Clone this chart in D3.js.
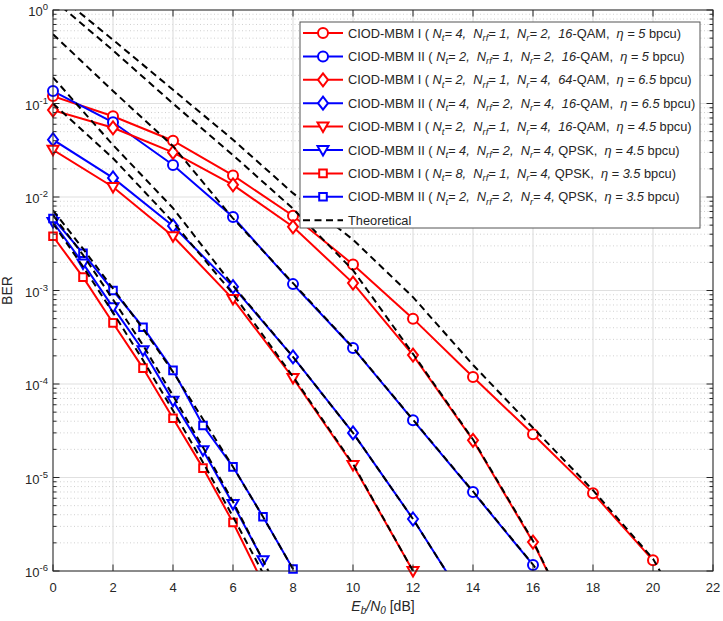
<!DOCTYPE html>
<html>
<head>
<meta charset="utf-8">
<script src="https://cdn.jsdelivr.net/npm/d3@7"></script>
<style>
  body { margin: 0; background: #fff; }
  text { font-family: "Liberation Sans", Arial, sans-serif; fill: #262626; }
</style>
</head>
<body>
<div id="chart"></div>
<script>

// ---- data ----
var schemes = ["I", "II", "I", "II", "I", "II", "I", "II"];
var nT  = ["4", "2", "2", "4", "2", "4", "8", "2"];
var nRF = ["1", "1", "1", "2", "1", "2", "1", "2"];
var nR  = ["2", "2", "4", "4", "4", "4", "4", "4"];
var qamOrder = ["16", "16", "64", "16", "16", "", "", ""];   // "" -> QPSK
var eta = ["5", "5", "6.5", "6.5", "4.5", "4.5", "3.5", "3.5"];

// simulated BER
var simX = [
    [0, 2, 4, 6, 8, 10, 12, 14, 16, 18, 20],
    [0, 2, 4, 6, 8, 10, 12, 14, 16],
    [0, 2, 4, 6, 8, 10, 12, 14, 16, 18],
    [0, 2, 4, 6, 8, 10, 12, 14],
    [0, 2, 4, 6, 8, 10, 12],
    [0, 1, 2, 3, 4, 5, 6, 7],
    [0, 1, 2, 3, 4, 5, 6, 7],
    [0, 1, 2, 3, 4, 5, 6, 7, 8]
];
var simBer = [
    [0.12, 0.073, 0.040, 0.017, 0.0063, 1.9e-3, 5.0e-4, 1.19e-4, 2.9e-5, 6.8e-6, 1.3e-6],
    [0.136, 0.063, 0.022, 0.0061, 1.17e-3, 2.43e-4, 4.1e-5, 7.0e-6, 1.16e-6],
    [0.085, 0.055, 0.030, 0.0135, 0.0048, 1.2e-3, 2.04e-4, 2.5e-5, 2.04e-6, 1e-7],
    [0.041, 0.016, 0.0049, 1.1e-3, 1.95e-4, 3.0e-5, 3.6e-6, 3.5e-7],
    [0.032, 0.0128, 0.0038, 8.1e-4, 1.16e-4, 1.36e-5, 1.0e-6],
    [0.0054, 1.95e-3, 6.6e-4, 2.3e-4, 6.6e-5, 1.96e-5, 5.2e-6, 1.3e-6],
    [0.0038, 1.39e-3, 4.5e-4, 1.48e-4, 4.3e-5, 1.26e-5, 3.3e-6, 7.4e-7],
    [0.0059, 2.5e-3, 1.0e-3, 4.05e-4, 1.4e-4, 3.6e-5, 1.3e-5, 3.8e-6, 1.05e-6]
];

// theoretical curves (dashed)
var theoX = [
    [0, 2, 4, 6, 8, 10, 12, 14, 16, 18, 20, 22],
    [0, 2, 4, 6, 8, 10, 12, 14, 16, 18],
    [0, 2, 4, 6, 8, 10, 12, 14, 16, 18],
    [0, 2, 4, 6, 8, 10, 12, 14],
    [0, 2, 4, 6, 8, 10, 12, 14],
    [0, 1, 2, 3, 4, 5, 6, 7, 8],
    [0, 1, 2, 3, 4, 5, 6, 7, 8],
    [0, 1, 2, 3, 4, 5, 6, 7, 8, 9]
];
var theoBer = [
    [1.6, 0.48, 0.14, 0.041, 0.011, 3.5e-3, 8.5e-4, 1.6e-4, 3.4e-5, 7.3e-6, 1.35e-6, 1e-7],
    [0.55, 0.136, 0.035, 5.9e-3, 1.2e-3, 2.45e-4, 4.15e-5, 7.1e-6, 1.17e-6, 1.5e-7],
    [1.3, 0.37, 0.1, 0.028, 0.0075, 1.65e-3, 2.1e-4, 2.55e-5, 2.1e-6, 1e-7],
    [0.19, 0.036, 0.0076, 1.13e-3, 1.95e-4, 3.0e-5, 3.6e-6, 3.5e-7],
    [0.1, 0.026, 0.0054, 9.2e-4, 1.2e-4, 1.4e-5, 1.0e-6, 6e-8],
    [6.4e-3, 2.4e-3, 8e-4, 2.6e-4, 7.5e-5, 2.1e-5, 5.5e-6, 1.3e-6, 3e-7],
    [5.2e-3, 1.8e-3, 5.8e-4, 1.8e-4, 5.2e-5, 1.45e-5, 3.8e-6, 9.5e-7, 2.2e-7],
    [7.2e-3, 2.8e-3, 1.05e-3, 3.9e-4, 1.35e-4, 4.2e-5, 1.3e-5, 3.8e-6, 1.05e-6, 2.8e-7]
];

var xTicks = [0, 2, 4, 6, 8, 10, 12, 14, 16, 18, 20, 22];
var yTickExp = [0, -1, -2, -3, -4, -5, -6];

// styles per series
var seriesColor = ["#ff0000", "#0000ff", "#ff0000", "#0000ff", "#ff0000", "#0000ff", "#ff0000", "#0000ff"];
var seriesMarker = ["circle", "circle", "diamond", "diamond", "triangle", "triangle", "square", "square"];


/*
 * BerChart - Object constructor function
 * @param _parentElement -- the HTML element in which to draw the chart
 */
BerChart = function(_parentElement) {
    this.parentElement = _parentElement;
    this.initVis();
};


BerChart.prototype.initVis = function() {
    var vis = this;

    vis.width = 723;
    vis.height = 621;
    vis.margin = {left: 53, right: 10, top: 10, bottom: 50};
    vis.plotW = vis.width - vis.margin.left - vis.margin.right;
    vis.plotH = vis.height - vis.margin.top - vis.margin.bottom;

    vis.svg = d3.select(vis.parentElement)
        .append("svg")
        .attr("width", vis.width)
        .attr("height", vis.height);

    vis.svg.append("rect")
        .attr("width", vis.width)
        .attr("height", vis.height)
        .attr("fill", "#fff");

    vis.g = vis.svg.append("g")
        .attr("transform", "translate(" + vis.margin.left + "," + vis.margin.top + ")");

    vis.x = d3.scaleLinear().domain([0, 22]).range([0, vis.plotW]);
    vis.y = d3.scaleLog().domain([1e-6, 1]).range([vis.plotH, 0]);

    vis.svg.append("defs").append("clipPath")
        .attr("id", "plot-clip")
        .append("rect")
        .attr("width", vis.plotW)
        .attr("height", vis.plotH);

    vis.drawGrid();
    vis.drawSeries();
    vis.drawAxes();
    vis.drawLegend();
};


BerChart.prototype.drawGrid = function() {
    var vis = this;
    var grid = vis.g.append("g").attr("class", "grid");

    // minor horizontal grid (dotted)
    var minor = [];
    yTickExp.forEach(function(e) {
        if (e === 0) return;
        for (var k = 2; k <= 9; k++) minor.push(k * Math.pow(10, e));
    });
    grid.selectAll(".minor").data(minor).enter().append("line")
        .attr("x1", 0).attr("x2", vis.plotW)
        .attr("y1", function(d) { return vis.y(d); })
        .attr("y2", function(d) { return vis.y(d); })
        .attr("stroke", "#c4c4c4")
        .attr("stroke-width", 0.8)
        .attr("stroke-dasharray", "1,2.5");

    // major grid
    grid.selectAll(".hmajor").data(yTickExp).enter().append("line")
        .attr("x1", 0).attr("x2", vis.plotW)
        .attr("y1", function(d) { return vis.y(Math.pow(10, d)); })
        .attr("y2", function(d) { return vis.y(Math.pow(10, d)); })
        .attr("stroke", "#e0e0e0")
        .attr("stroke-width", 1.2);
    grid.selectAll(".vmajor").data(xTicks).enter().append("line")
        .attr("y1", 0).attr("y2", vis.plotH)
        .attr("x1", function(d) { return vis.x(d); })
        .attr("x2", function(d) { return vis.x(d); })
        .attr("stroke", "#e0e0e0")
        .attr("stroke-width", 1.2);
};


BerChart.prototype.markerPath = function(type) {
    switch (type) {
        case "circle":   return "M5,0A5,5 0 1,1 -5,0A5,5 0 1,1 5,0Z";
        case "diamond":  return "M0,-6.5L5,0L0,6.5L-5,0Z";
        case "triangle": return "M-5.5,-4L5.5,-4L0,5.5Z";
        case "square":   return "M-3.8,-3.8H3.8V3.8H-3.8Z";
    }
};


BerChart.prototype.drawSeries = function() {
    var vis = this;

    vis.line = d3.line()
        .x(function(d) { return vis.x(d[0]); })
        .y(function(d) { return vis.y(d[1]); });

    var clipped = vis.g.append("g").attr("clip-path", "url(#plot-clip)");

    // simulated curves
    simX.forEach(function(xs, i) {
        var pts = xs.map(function(x, j) { return [x, simBer[i][j]]; });
        clipped.append("path")
            .datum(pts)
            .attr("fill", "none")
            .attr("stroke", seriesColor[i])
            .attr("stroke-width", 2)
            .attr("d", vis.line);
    });

    var markers = vis.g.append("g");
    simX.forEach(function(xs, i) {
        var pts = xs.map(function(x, j) { return [x, simBer[i][j]]; })
            .filter(function(d) { return d[1] >= 0.99e-6; });
        markers.selectAll(".m" + i).data(pts).enter().append("path")
            .attr("transform", function(d) { return "translate(" + vis.x(d[0]) + "," + vis.y(d[1]) + ")"; })
            .attr("d", vis.markerPath(seriesMarker[i]))
            .attr("fill", "#fff")
            .attr("stroke", seriesColor[i])
            .attr("stroke-width", 2);
    });

    // theoretical curves
    var theo = vis.g.append("g").attr("clip-path", "url(#plot-clip)");
    theoX.forEach(function(xs, i) {
        var pts = xs.map(function(x, j) { return [x, theoBer[i][j]]; });
        theo.append("path")
            .datum(pts)
            .attr("fill", "none")
            .attr("stroke", "#000")
            .attr("stroke-width", 2)
            .attr("stroke-dasharray", "7,4.5")
            .attr("d", vis.line);
    });
};


BerChart.prototype.drawAxes = function() {
    var vis = this;
    var axisColor = "#262626";
    var ax = vis.g.append("g");

    // box
    ax.append("rect")
        .attr("width", vis.plotW)
        .attr("height", vis.plotH)
        .attr("fill", "none")
        .attr("stroke", axisColor)
        .attr("stroke-width", 1);

    // x ticks (bottom + top, inward)
    xTicks.forEach(function(t) {
        var px = vis.x(t);
        ax.append("line").attr("x1", px).attr("x2", px)
            .attr("y1", vis.plotH).attr("y2", vis.plotH - 6.5)
            .attr("stroke", axisColor);
        ax.append("line").attr("x1", px).attr("x2", px)
            .attr("y1", 0).attr("y2", 6.5)
            .attr("stroke", axisColor);
        ax.append("text")
            .attr("x", px)
            .attr("y", vis.plotH + 21)
            .attr("text-anchor", "middle")
            .attr("font-size", 13)
            .text(t);
    });

    // y ticks: major and minor on left and right
    yTickExp.forEach(function(e) {
        var py = vis.y(Math.pow(10, e));
        [[0, 6.5], [vis.plotW, vis.plotW - 6.5]].forEach(function(p) {
            ax.append("line").attr("x1", p[0]).attr("x2", p[1])
                .attr("y1", py).attr("y2", py)
                .attr("stroke", axisColor);
        });
        var lab = ax.append("text")
            .attr("x", -5)
            .attr("y", py + 6)
            .attr("text-anchor", "end")
            .attr("font-size", 13);
        lab.append("tspan").text("10");
        lab.append("tspan")
            .attr("dy", -6)
            .attr("font-size", 9.5)
            .text(e === 0 ? "0" : "-" + (-e));

        if (e === 0) return;
        for (var k = 2; k <= 9; k++) {
            var my = vis.y(k * Math.pow(10, e));
            [[0, 3.5], [vis.plotW, vis.plotW - 3.5]].forEach(function(p) {
                ax.append("line").attr("x1", p[0]).attr("x2", p[1])
                    .attr("y1", my).attr("y2", my)
                    .attr("stroke", axisColor);
            });
        }
    });

    // axis labels
    var xl = vis.svg.append("text")
        .attr("x", vis.margin.left + vis.plotW / 2)
        .attr("y", 611)
        .attr("text-anchor", "middle")
        .attr("font-size", 14);
    xl.append("tspan").attr("font-style", "italic").text("E");
    xl.append("tspan").attr("font-style", "italic").attr("font-size", 10).attr("dy", 3).text("b");
    xl.append("tspan").attr("font-style", "italic").attr("dy", -3).text("/N");
    xl.append("tspan").attr("font-style", "italic").attr("font-size", 10).attr("dy", 3).text("0");
    xl.append("tspan").attr("dy", -3).text(" [dB]");

    vis.svg.append("text")
        .attr("transform", "translate(12," + (vis.margin.top + vis.plotH / 2) + ") rotate(-90)")
        .attr("text-anchor", "middle")
        .attr("font-size", 14)
        .text("BER");
};


BerChart.prototype.legendSegments = function(i) {
    var segs = [
        {t: "CIOD-MBM " + schemes[i] + " ( "},
        {t: "N", it: 1}, {t: "t", it: 1, sub: 1}, {t: "= " + nT[i] + ",  ", it: 1},
        {t: "N", it: 1}, {t: "rf", it: 1, sub: 1}, {t: "= " + nRF[i] + ",  ", it: 1},
        {t: "N", it: 1}, {t: "r", it: 1, sub: 1}, {t: "= " + nR[i] + ",", it: 1}
    ];
    if (qamOrder[i] !== "") {
        segs.push({t: "  " + qamOrder[i], it: 1});
        segs.push({t: "-QAM,  "});
    } else {
        segs.push({t: " QPSK,  "});
    }
    segs.push({t: "\u03b7 = " + eta[i], it: 1});
    segs.push({t: " bpcu)"});
    return segs;
};


BerChart.prototype.drawLegend = function() {
    var vis = this;
    var lg = vis.svg.append("g").attr("transform", "translate(300,22)");
    var rowH = 23.4;

    lg.append("rect")
        .attr("width", 400)
        .attr("height", 206)
        .attr("fill", "#fff")
        .attr("stroke", "#555")
        .attr("stroke-width", 1);

    var entries = d3.range(9);
    entries.forEach(function(i) {
        var cy = 11 + i * rowH;
        var row = lg.append("g").attr("transform", "translate(0," + cy + ")");
        if (i < 8) {
            row.append("line").attr("x1", 3).attr("x2", 43)
                .attr("stroke", seriesColor[i]).attr("stroke-width", 2);
            row.append("path")
                .attr("transform", "translate(23,0)")
                .attr("d", vis.markerPath(seriesMarker[i]))
                .attr("fill", "#fff")
                .attr("stroke", seriesColor[i])
                .attr("stroke-width", 2);
            var txt = row.append("text")
                .attr("x", 48).attr("y", 4.5)
                .attr("font-size", 12.8)
                .style("white-space", "pre");
            var lowered = false;
            vis.legendSegments(i).forEach(function(s) {
                var sp = txt.append("tspan").text(s.t);
                if (s.it) sp.attr("font-style", "italic");
                if (s.sub) { sp.attr("font-size", 9.4).attr("dy", 3.5); lowered = true; }
                else if (lowered) { sp.attr("dy", -3.5); lowered = false; }
            });
        } else {
            row.append("line").attr("x1", 3).attr("x2", 43)
                .attr("stroke", "#000").attr("stroke-width", 2)
                .attr("stroke-dasharray", "7,4.5");
            row.append("text")
                .attr("x", 48).attr("y", 4.5)
                .attr("font-size", 12.8)
                .text("Theoretical");
        }
    });
};


new BerChart("#chart");

</script>
</body>
</html>
